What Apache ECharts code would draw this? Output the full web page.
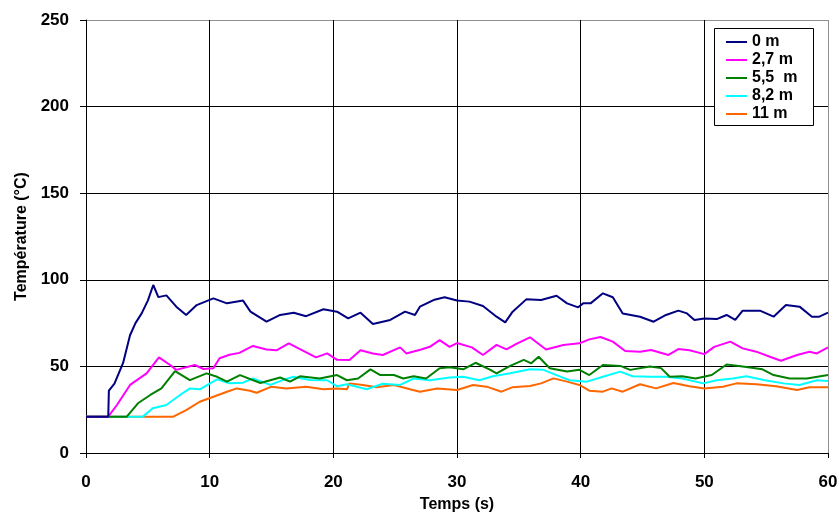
<!DOCTYPE html>
<html>
<head>
<meta charset="utf-8">
<script src="https://cdn.jsdelivr.net/npm/echarts@6/dist/echarts.min.js"></script>
<style>html,body{margin:0;padding:0;background:#fff}#c{width:840px;height:512px}</style>
</head>
<body>
<div id="c"></div>
<script>
const seriesNames = ['0 m', '2,7 m', '5,5  m', '8,2 m', '11 m'];
const seriesColors = ['#000080', '#FF00FF', '#008000', '#00FFFF', '#FF6600'];
const xTicks = [0, 10, 20, 30, 40, 50, 60];
const yTicks = [0, 50, 100, 150, 200, 250];

const t0 = [0, 1.8, 1.85, 2.3, 3.0, 3.56, 4.0, 4.5, 5.0, 5.44, 5.85, 6.5, 7.3, 8.1, 8.95, 9.5, 10.3, 11.4, 12.7, 13.3, 14.6, 15.7, 16.8, 17.8, 19.2, 20.3, 21.2, 22.2, 23.2, 24.6, 25.8, 26.6, 27.0, 28.1, 29.0, 30.0, 31.0, 32.1, 33.2, 33.9, 34.5, 35.6, 36.8, 38.05, 38.9, 39.8, 40.2, 40.8, 41.8, 42.6, 43.4, 44.8, 45.9, 46.9, 47.9, 48.6, 49.2, 50.0, 51.0, 51.8, 52.5, 53.1, 54.5, 55.6, 56.6, 57.7, 58.7, 59.3, 60];
const v0 = [21, 21, 36, 40, 52, 68, 75, 80.6, 88, 97, 90, 91, 84.5, 79.7, 85.4, 87, 89.3, 86.4, 88, 81.6, 75.8, 79.7, 81, 79, 83, 81.6, 77.7, 81, 74.5, 76.8, 81.6, 79.7, 84.5, 88.3, 89.9, 88, 87.4, 84.9, 78.7, 75.4, 81.6, 88.7, 88.3, 90.8, 86.4, 84.1, 86.4, 86.4, 92.2, 89.9, 80.6, 78.7, 75.8, 79.7, 82.2, 80.6, 76.8, 77.7, 77.3, 79.7, 76.8, 82.2, 82.2, 78.7, 85.4, 84.5, 78.7, 78.7, 81];

const t1 = [0, 1.8, 2.5, 3.56, 4.9, 5.9, 6.8, 7.3, 8.8, 9.5, 10.3, 10.8, 11.6, 12.4, 13.5, 14.6, 15.4, 16.4, 17.3, 18.6, 19.5, 20.3, 21.3, 22.2, 23.2, 24.0, 25.4, 25.9, 27.1, 27.8, 28.6, 29.4, 30.0, 31.2, 32.1, 33.2, 34.0, 34.8, 35.9, 37.2, 38.6, 39.9, 40.7, 41.6, 42.6, 43.6, 44.8, 45.7, 47.1, 47.9, 48.8, 50.0, 50.8, 52.1, 53.1, 54.2, 55.3, 56.2, 57.5, 58.5, 59.1, 60];
const v1 = [21, 21, 27.7, 39.3, 46, 55.2, 50.8, 48, 50.8, 48.5, 49, 54.7, 56.7, 57.8, 61.8, 59.8, 59.3, 63.3, 60, 55.2, 57.5, 53.8, 53.7, 59.3, 57.5, 56.6, 61, 57.5, 59.8, 61.3, 65.2, 61.3, 63.5, 61, 56.6, 62.4, 59.8, 63, 66.8, 59.8, 62.4, 63.3, 65.6, 67, 64.3, 58.9, 58.5, 59.5, 56.6, 60, 59.3, 57.1, 61.3, 64.3, 60.4, 58.5, 55.6, 53.3, 56.6, 58.5, 57.5, 61];

const t2 = [0, 3.3, 4.2, 5.2, 6.1, 7.2, 8.4, 9.75, 10.6, 11.4, 12.45, 14.1, 15.7, 16.5, 17.3, 18.9, 20.3, 21.1, 22.0, 23.0, 23.8, 24.9, 25.65, 26.5, 27.5, 28.6, 29.4, 30.5, 31.5, 32.7, 33.2, 34.3, 35.4, 36.0, 36.6, 37.5, 38.9, 39.9, 40.7, 41.8, 43.2, 44.0, 45.6, 46.5, 47.2, 48.2, 49.3, 50.6, 51.8, 53.1, 54.7, 55.6, 56.9, 58.3, 60];
const v2 = [21, 21, 28.7, 33.5, 37.3, 47.3, 42.1, 46, 44, 41.2, 45, 40.4, 43.6, 41.2, 44.3, 43, 45, 42, 43, 48.3, 45, 45, 43, 44.3, 43, 48.9, 49.5, 48.3, 52.1, 48, 46, 50.3, 53.8, 51.8, 55.6, 48.9, 47, 48, 45, 50.8, 50.3, 48, 49.9, 49, 44, 44.3, 43, 45, 51.1, 50, 48.3, 45, 43, 43, 45];

const t3 = [0, 4.6, 5.4, 6.5, 7.6, 8.4, 9.2, 10.6, 11.6, 12.7, 13.5, 14.9, 15.9, 16.8, 18.1, 19.5, 20.3, 21.1, 22.7, 24.0, 25.4, 26.5, 27.8, 29.4, 30.5, 31.8, 32.9, 34.3, 35.9, 37.0, 38.05, 39.1, 40.5, 41.8, 43.2, 44.2, 45.6, 46.9, 48.2, 49.9, 51.0, 52.3, 53.4, 54.9, 56.4, 57.7, 59.1, 60];
const v3 = [21, 21, 25.8, 27.7, 33.5, 37.3, 36.8, 42.5, 40.2, 40.6, 43, 39.3, 42.1, 44, 42.1, 42, 38.5, 39.7, 36.8, 40, 39.3, 43, 42, 43.6, 44, 42, 44.3, 46, 48.3, 48, 45, 42, 41.2, 44, 47, 44.3, 44, 44, 43, 40.2, 42, 43, 44.3, 42, 40.2, 39.3, 42, 41.6];

const t4 = [0, 7.06, 8.1, 9.2, 10.3, 11.4, 12.2, 13.25, 13.8, 15.0, 16.2, 17.8, 19.2, 20.3, 21.1, 21.3, 22.4, 23.5, 24.9, 26.2, 27.0, 28.4, 30.0, 31.3, 32.4, 33.6, 34.5, 35.9, 36.8, 37.8, 38.9, 39.9, 40.7, 41.8, 42.5, 43.4, 44.8, 46.1, 47.5, 48.8, 50.0, 51.5, 52.6, 54.2, 55.8, 57.5, 58.5, 60];
const v4 = [21, 21, 24.8, 29.6, 32.5, 35.4, 37.3, 35.9, 34.8, 38.3, 37.3, 38.3, 36.8, 37.3, 36.8, 40.2, 39.3, 38, 39.3, 36.8, 35.4, 37.3, 36.4, 39.3, 38.3, 35.4, 38, 38.7, 40.2, 43.1, 41.2, 39.3, 36, 35.4, 37.3, 35.4, 39.7, 37.3, 40.4, 38.5, 37.3, 38.3, 40.2, 39.7, 38.5, 36.4, 38, 38];

const times = [t0, t1, t2, t3, t4];
const values = [v0, v1, v2, v3, v4];

const font = '"Liberation Sans", Arial, sans-serif';
const chart = echarts.init(document.getElementById('c'), null, {renderer: 'canvas'});
chart.setOption({
  animation: false,
  backgroundColor: '#fff',
  grid: {left: 86, right: 12, top: 20, bottom: 59, containLabel: false, outerBoundsMode: 'none'},
  graphic: [{
    type: 'rect', left: 714, top: 28, z: 50,
    shape: {width: 99, height: 97},
    style: {fill: '#fff', stroke: '#000', lineWidth: 1}
  }],
  legend: {
    orient: 'vertical',
    left: 726, top: 33, z: 60,
    padding: 0,
    itemWidth: 21, itemHeight: 2, itemGap: 0,
    icon: 'rect',
    textStyle: {fontFamily: font, fontWeight: 'bold', fontSize: 16, color: '#000', lineHeight: 18},
    data: seriesNames
  },
  xAxis: {
    type: 'value', min: xTicks[0], max: xTicks[xTicks.length - 1], interval: 10,
    name: 'Temps (s)', nameLocation: 'middle', nameGap: 44,
    nameTextStyle: {fontFamily: font, fontWeight: 'bold', fontSize: 16, color: '#000'},
    axisLine: {onZero: false, lineStyle: {color: '#000', width: 1}},
    axisTick: {show: true, length: 5, lineStyle: {color: '#000'}},
    axisLabel: {fontFamily: font, fontWeight: 'bold', fontSize: 17, color: '#000', margin: 21},
    splitLine: {show: true, lineStyle: {color: ['#000', '#000', '#000', '#000', '#000', '#000', '#909090'], width: 1}}
  },
  yAxis: {
    type: 'value', min: yTicks[0], max: yTicks[yTicks.length - 1], interval: 50,
    name: 'Température (°C)', nameLocation: 'middle', nameGap: 54, nameRotate: 90,
    nameTextStyle: {fontFamily: font, fontWeight: 'bold', fontSize: 16, color: '#000'},
    axisLine: {show: true, lineStyle: {color: '#000', width: 1}},
    axisTick: {show: true, length: 6, lineStyle: {color: '#000'}},
    axisLabel: {fontFamily: font, fontWeight: 'bold', fontSize: 17, color: '#000', margin: 17},
    splitLine: {show: true, lineStyle: {color: ['#000', '#000', '#000', '#000', '#000', '#909090'], width: 1}}
  },
  series: seriesNames.map((n, i) => ({
    name: n, type: 'line', symbol: 'none',
    lineStyle: {color: seriesColors[i], width: 2},
    itemStyle: {color: seriesColors[i]},
    z: 10 - i,
    data: times[i].map((t, k) => [t, values[i][k]])
  }))
});
</script>
</body>
</html>
